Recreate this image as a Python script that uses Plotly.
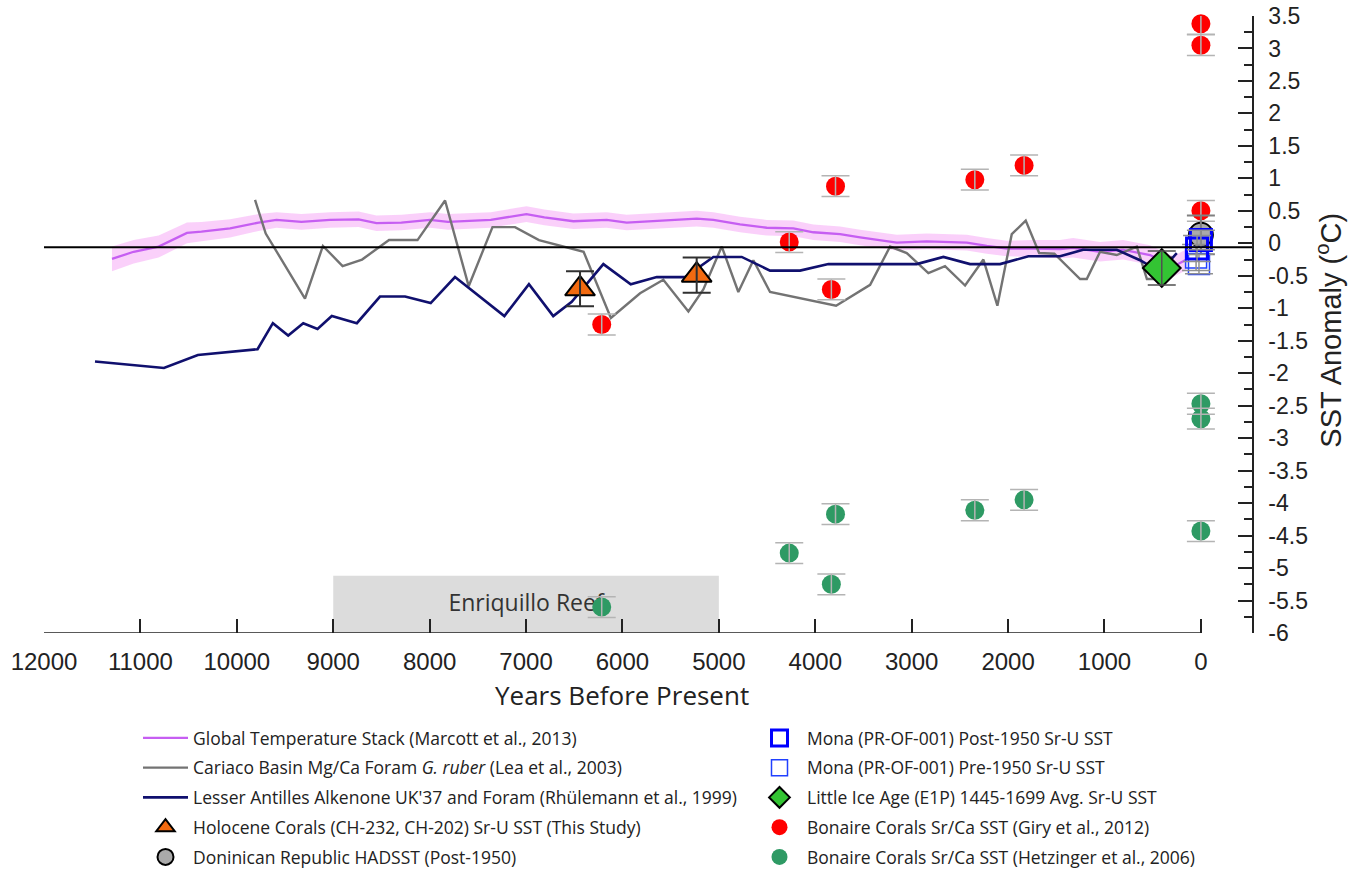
import plotly.graph_objects as go

# ---------------- data ----------------
marcott_age = [11295, 11070, 10811, 10517, 10367, 10070, 9774, 9589, 9330, 9033, 8737, 8552, 8293,
               7996, 7810, 7366, 6996, 6810, 6509, 6163, 5956, 5644, 5229, 5057, 4780, 4503, 4227,
               4020, 3743, 3535, 3397, 3154, 2843, 2705, 2428, 2221, 2014, 1737, 1461, 1326, 1046,
               807, 527, 288, 150]
marcott_sst = [-0.24, -0.13, -0.05, 0.16, 0.18, 0.23, 0.32, 0.36, 0.33, 0.36, 0.37, 0.31, 0.32,
               0.36, 0.33, 0.36, 0.45, 0.40, 0.34, 0.36, 0.32, 0.35, 0.38, 0.36, 0.29, 0.24, 0.23,
               0.17, 0.14, 0.09, 0.06, 0.01, 0.03, 0.02, 0.01, -0.04, -0.08, -0.08, -0.09, -0.07, -0.13,
               -0.10, -0.18, -0.36, -0.25]
marcott_unc = [0.19, 0.18, 0.17, 0.16, 0.15, 0.14, 0.13, 0.12, 0.12, 0.12, 0.12, 0.12, 0.12,
               0.12, 0.12, 0.12, 0.12, 0.12, 0.12, 0.12, 0.12, 0.12, 0.12, 0.12, 0.12, 0.12, 0.12,
               0.12, 0.12, 0.12, 0.12, 0.12, 0.12, 0.12, 0.12, 0.12, 0.12, 0.13, 0.14, 0.15, 0.15,
               0.15, 0.15, 0.16, 0.16]

cariaco_age = [9811, 9700, 9293, 9107, 8903, 8701, 8421, 8126, 7840, 7595, 7348, 7114, 6866, 6403,
               6120, 5817, 5576, 5316, 5161, 4970, 4798, 4642, 4469, 3784, 3431, 3224, 3051, 2827,
               2654, 2446, 2256, 2111, 1962, 1817, 1678, 1520, 1253, 1184, 1046, 873, 665, 560, 430, 300]
cariaco_sst = [0.67, 0.15, -0.85, -0.04, -0.35, -0.25, 0.05, 0.05, 0.66, -0.66, 0.25, 0.25, 0.05, -0.13,
               -1.15, -0.77, -0.56, -1.05, -0.71, -0.05, -0.75, -0.26, -0.75, -0.96, -0.64, -0.05, -0.15, -0.46,
               -0.35, -0.65, -0.25, -0.96, 0.14, 0.35, -0.15, -0.16, -0.55, -0.55, -0.13, -0.18, -0.05, -0.55, -0.55, -0.2]

lesser_age = [11471, 10756, 10404, 10070, 9785, 9626, 9467, 9311, 9163, 9015, 8755, 8515, 8255, 7989,
              7737, 7225, 6970, 6718, 6526, 6198, 5914, 5644, 5350, 5057, 4763, 4469, 4158, 3864, 2948,
              2671, 2394, 2083, 1789, 1461, 1222, 873, 631, 423, 250]
lesser_sst = [-1.82, -1.92, -1.72, -1.67, -1.63, -1.23, -1.42, -1.23, -1.32, -1.12, -1.23, -0.82, -0.82, -0.92,
              -0.52, -1.12, -0.63, -1.12, -0.90, -0.32, -0.63, -0.52, -0.52, -0.21, -0.21, -0.42, -0.42, -0.32, -0.32,
              -0.21, -0.32, -0.32, -0.20, -0.20, -0.10, -0.10, -0.26, -0.44, -0.15]

holocene_age = [6440, 5230]
holocene_sst = [-0.70, -0.49]
holocene_err = [0.27, 0.27]

dominican_age = [0]
dominican_sst = [0.13]
dominican_err = [0.30]

mona_post_age = [0, 40]
mona_post_sst = [0.05, -0.08]
mona_post_err = [0.15, 0.20]

mona_pre_age = [50, 20]
mona_pre_sst = [-0.22, -0.32]
mona_pre_err = [0.20, 0.15]

lia_age = [406]
lia_sst = [-0.38]
lia_err = [0.26]

giry_age = [6215, 4270, 3790, 3833, 2345, 1834, 0, 0, 0]
giry_sst = [-1.25, 0.02, 0.88, -0.71, 0.98, 1.20, 3.38, 3.05, 0.50]
giry_err = [0.16] * 9

hetz_age = [6215, 4270, 3790, 3833, 2345, 1834, 0, 0, 0]
hetz_sst = [-5.60, -4.77, -4.17, -5.25, -4.11, -3.95, -2.47, -2.70, -4.43]
hetz_err = [0.16] * 9

x_tickvals = [12000, 11000, 10000, 9000, 8000, 7000, 6000, 5000, 4000, 3000, 2000, 1000, 0]
x_ticktext = ["12000", "11000", "10000", "9000", "8000", "7000", "6000", "5000", "4000",
              "3000", "2000", "1000", "0"]
y_tickvals = [3.5, 3, 2.5, 2, 1.5, 1, 0.5, 0, -0.5, -1, -1.5, -2, -2.5, -3, -3.5, -4, -4.5,
              -5, -5.5, -6]
y_ticktext = ["3.5", "3", "2.5", "2", "1.5", "1", "0.5", "0", "-0.5", "-1", "-1.5", "-2", "-2.5",
              "-3", "-3.5", "-4", "-4.5", "-5", "-5.5", "-6"]

reef_start, reef_end = 9000, 5000
reef_top = -5.12

# ---------------- styles ----------------
ARIAL = "Liberation Sans, Arial, sans-serif"
CAL = "Open Sans, Lato, sans-serif"
MAG = "#c65ef2"
BAND = "rgba(245,170,245,0.55)"
GREY = "#737373"
NAVY = "#10106e"

fig = go.Figure()

upper = [m + u for m, u in zip(marcott_sst, marcott_unc)]
lower = [m - u for m, u in zip(marcott_sst, marcott_unc)]
fig.add_trace(go.Scatter(x=marcott_age, y=upper, mode="lines", line=dict(width=0),
                         showlegend=False, hoverinfo="skip"))
fig.add_trace(go.Scatter(x=marcott_age, y=lower, mode="lines", line=dict(width=0),
                         fill="tonexty", fillcolor=BAND, showlegend=False, hoverinfo="skip"))

fig.add_trace(go.Scatter(x=marcott_age, y=marcott_sst, mode="lines", line=dict(color=MAG, width=2.3),
                         name="Global Temperature Stack (Marcott et al., 2013)",
                         legend="legend", legendgroup="a"))
fig.add_trace(go.Scatter(x=cariaco_age, y=cariaco_sst, mode="lines", line=dict(color=GREY, width=2.4),
                         name="Cariaco Basin Mg/Ca Foram <i>G. ruber</i> (Lea et al., 2003)",
                         legend="legend", legendgroup="b"))
fig.add_trace(go.Scatter(x=lesser_age, y=lesser_sst, mode="lines", line=dict(color=NAVY, width=2.6),
                         name="Lesser Antilles Alkenone UK'37 and Foram (Rhülemann et al., 1999)",
                         legend="legend", legendgroup="c"))


def points(x, y, err, name, legend, group, marker, ecolor, ewidth=14, ethick=1.5):
    fig.add_trace(go.Scatter(x=x, y=y, mode="markers", marker=marker, name=name,
                             legend=legend, legendgroup=group, cliponaxis=False))
    # error bars drawn above the symbols, as in the reference
    fig.add_trace(go.Scatter(x=x, y=y, mode="markers", marker=dict(size=1, opacity=0),
                             error_y=dict(type="data", array=err, color=ecolor, width=ewidth,
                                          thickness=ethick),
                             showlegend=False, hoverinfo="skip", cliponaxis=False))


points(giry_age, giry_sst, giry_err, "Bonaire Corals Sr/Ca SST (Giry et al., 2012)", "legend2", "i",
       dict(symbol="circle", size=19, color="#ff0000", line=dict(width=0)), "#b4b4b4")
points(hetz_age, hetz_sst, hetz_err, "Bonaire Corals Sr/Ca SST (Hetzinger et al., 2006)", "legend2", "j",
       dict(symbol="circle", size=19, color="#2e9a64", line=dict(width=0)), "#b4b4b4")
points(holocene_age, holocene_sst, holocene_err, "Holocene Corals (CH-232, CH-202) Sr-U SST (This Study)",
       "legend", "d", dict(symbol="triangle-up", size=26, color="#f26a10", line=dict(color="black", width=2)),
       "#303030", ethick=2)
points(lia_age, lia_sst, lia_err, "Little Ice Age (E1P) 1445-1699 Avg. Sr-U SST", "legend2", "h",
       dict(symbol="diamond", size=29, color="#33c433", line=dict(color="black", width=2)), "#505050")
points(dominican_age, dominican_sst, dominican_err, "Doninican Republic HADSST (Post-1950)", "legend", "e",
       dict(symbol="circle", size=24, color="#aaaaaa", line=dict(color="black", width=2)), "#808080", ethick=2)
points(mona_pre_age, mona_pre_sst, mona_pre_err, "Mona (PR-OF-001) Pre-1950 Sr-U SST", "legend2", "g",
       dict(symbol="square-open", size=21, color="#2040ff", line=dict(color="#2040ff", width=1.5)), "#909090")
points(mona_post_age, mona_post_sst, mona_post_err, "Mona (PR-OF-001) Post-1950 Sr-U SST", "legend2", "f",
       dict(symbol="square-open", size=21, color="#0000ff", line=dict(color="#0000ff", width=3)), "#909090")

# order of the legend entries
rank = {"a": 1, "b": 2, "c": 3, "d": 4, "e": 5, "f": 1, "g": 2, "h": 3, "i": 4, "j": 5}
for tr in fig.data:
    if tr.legendgroup in rank:
        tr.legendrank = rank[tr.legendgroup]

# Enriquillo reef box with its label (below the data)
fig.add_shape(type="rect", x0=reef_start, x1=reef_end, y0=-6, y1=reef_top, xref="x", yref="y",
              fillcolor="#dcdcdc", line=dict(width=0), layer="below",
              label=dict(text="Enriquillo Reef", textposition="middle center",
                         font=dict(family=CAL, size=23, color="#333333")))
# zero reference line
fig.add_shape(type="line", x0=12000, x1=-530, y0=-0.06, y1=-0.06, xref="x", yref="y",
              line=dict(color="black", width=2), layer="above")
# x axis line from 12000 to 0
fig.add_shape(type="line", x0=12000, x1=0, y0=-6, y1=-6, xref="x", yref="y",
              line=dict(color="#222222", width=1.5), layer="above")

fig.add_annotation(text="Years Before Present", x=6000, xref="x", y=(633 - 695) / 617, yref="paper",
                   yanchor="middle", showarrow=False, font=dict(family=CAL, size=26, color="#222222"))
fig.add_annotation(text="SST Anomaly (<sup>o</sup>C)", textangle=-90, x=1.080, y=0.491,
                   xref="paper", yref="paper", showarrow=False,
                   font=dict(family=ARIAL, size=29, color="#222222"))

fig.update_layout(
    width=1364, height=869,
    margin=dict(l=44, r=112, t=16, b=236, autoexpand=False),
    plot_bgcolor="white", paper_bgcolor="white",
    xaxis=dict(range=[12000, -530], showgrid=False, zeroline=False, showline=False,
               tickvals=x_tickvals, ticktext=x_ticktext, ticks="inside", ticklen=14,
               tickwidth=1.5, tickcolor="#222222", ticklabelstandoff=12,
               tickfont=dict(family=ARIAL, size=24, color="#222222")),
    yaxis=dict(range=[-6, 3.5], side="right", showgrid=False, zeroline=False, showline=True,
               linecolor="#222222", linewidth=1.5, tickvals=y_tickvals, ticktext=y_ticktext,
               ticks="inside", ticklen=14, tickwidth=1.5, tickcolor="#222222",
               ticklabelstandoff=10,
               minor=dict(ticks="inside", ticklen=8, dtick=0.25, tickwidth=1.5, tickcolor="#222222"),
               tickfont=dict(family=ARIAL, size=23, color="#222222")),
    legend=dict(x=138 / 1364, y=(869 - 720) / 869, xref="container", yref="container",
                xanchor="left", yanchor="top", tracegroupgap=4, itemsizing="trace", itemwidth=45,
                font=dict(family=CAL, size=17.5, color="#222222"), bgcolor="rgba(0,0,0,0)"),
    legend2=dict(x=752 / 1364, y=(869 - 720) / 869, xref="container", yref="container",
                 xanchor="left", yanchor="top", tracegroupgap=4, itemsizing="trace", itemwidth=45,
                 font=dict(family=CAL, size=17.5, color="#222222"), bgcolor="rgba(0,0,0,0)"),
)

fig.write_html("out.html", config={"displayModeBar": False},
               post_script="document.body.style.margin='0';")
